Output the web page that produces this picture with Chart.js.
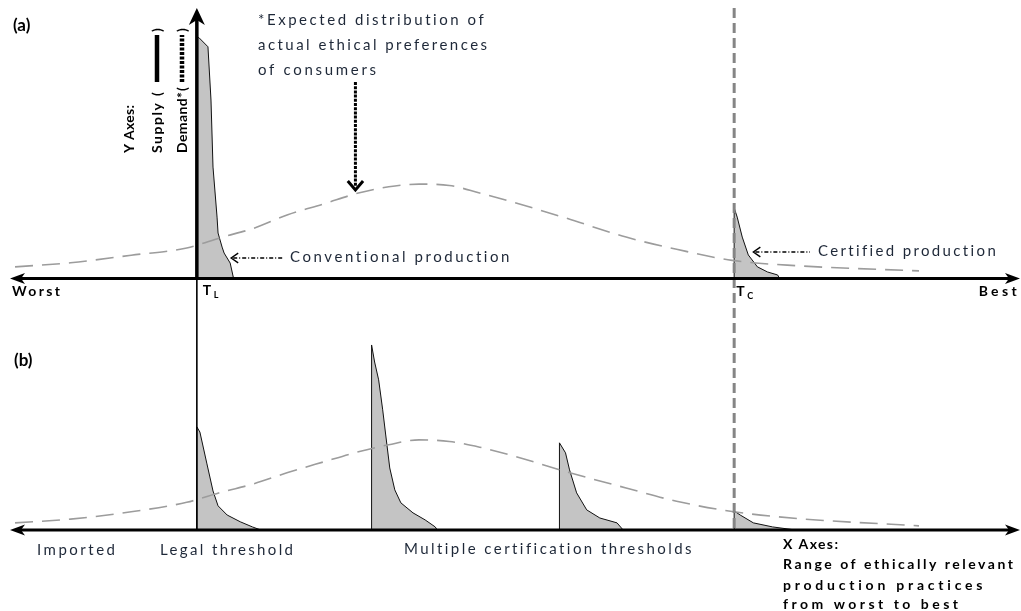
<!DOCTYPE html>
<html>
<head>
<meta charset="utf-8">
<script src="https://cdn.jsdelivr.net/npm/chart.js@4.4.1/dist/chart.umd.min.js"></script>
<style>
  html, body { margin: 0; padding: 0; background: #fff; }
  #chart { display: block; }
</style>
</head>
<body>
<canvas id="chart" width="1021" height="611"></canvas>
<script>
// x: production practices from worst (0) to best (100); y: relative quantity
const thresholdLegal = 18.5;
const thresholdCert = 71.7;

// expected consumer demand (dashed bell), panels (a) and (b)
const demandX = [0.5, 6, 12, 17.5, 21, 24, 27.5, 31, 34.5, 37.5, 40.5, 43.5, 46.5, 50, 55, 61, 66, 71.5, 78, 90];
const demandA = [4.3, 5.8, 8.6, 11.3, 15.3, 18.4, 23.6, 27.5, 31.6, 33.9, 34.9, 34.4, 31.6, 28.0, 22.4, 15.3, 10.8, 6.7, 4.7, 2.8];
const demandB = [2.6, 4.0, 6.7, 10.2, 14.0, 16.9, 21.2, 25.1, 28.9, 31.5, 33.3, 32.7, 30.6, 27.2, 21.6, 15.5, 10.6, 6.8, 4.2, 1.5];

// (a) supply: conventional + certified
const convX = [18.5, 18.5, 18.7, 19.6, 19.9, 20.1, 20.5, 20.6, 21.0, 21.2, 21.8, 22.1, 22.1];
const convY = [0, 89.1, 89.1, 85.7, 66.0, 41.2, 22.7, 16.8, 11.6, 9.4, 5.7, 0.6, 0];
const certX = [71.7, 71.7, 72.0, 72.5, 73.1, 74.0, 75.0, 76.0, 76.2];
const certY = [0, 26.1, 22.7, 15.3, 8.7, 4.3, 2.4, 1.3, 0];

// (b) supply: legal threshold + multiple certification thresholds
const legalX = [18.5, 18.5, 18.8, 19.5, 20.1, 20.6, 21.5, 22.8, 24.0, 24.8];
const legalY = [0, 38.1, 36.2, 24.4, 14.4, 8.9, 5.5, 3.0, 1.1, 0];
const multi1X = [35.8, 35.8, 36.1, 36.5, 36.9, 37.2, 37.6, 38.1, 38.7, 39.9, 41.1, 42.1, 42.3];
const multi1Y = [0, 68.4, 62.1, 55.5, 44.4, 35.1, 22.9, 14.8, 10.0, 6.3, 3.7, 1.1, 0];
const multi2X = [54.4, 54.4, 55.0, 55.4, 56.1, 57.1, 58.4, 60.1, 60.7];
const multi2Y = [0, 32.2, 28.5, 22.2, 13.7, 7.4, 4.4, 2.6, 0];
const multi3X = [71.7, 71.7, 72.3, 73.6, 75.5, 77.7];
const multi3Y = [0, 7.0, 5.5, 2.6, 1.1, 0];

const FONT = 'Lato, "Open Sans", sans-serif';
const TEXT = '#1e2838';

const pts = (xs, ys) => xs.map((x, i) => ({ x, y: ys[i] }));

const demand = (label, ys, axis) => ({
    label, data: pts(demandX, ys), yAxisID: axis,
    borderColor: '#9c9c9c', borderWidth: 1.6, borderDash: [18, 9],
    fill: false, pointRadius: 0, cubicInterpolationMode: 'monotone'
});
const supply = (label, xs, ys, axis) => ({
    label, data: pts(xs, ys), yAxisID: axis,
    borderColor: '#111', borderWidth: 1, backgroundColor: '#c4c4c4',
    fill: 'origin', pointRadius: 0, tension: 0
});

// --- helpers for the hand-drawn parts ---
function fitText(ctx, text, x, y, width, font, color, align) {
    ctx.font = font;
    ctx.letterSpacing = '0px';
    const w = ctx.measureText(text).width;
    const ls = (width - w) / Math.max(1, text.length - 1);
    ctx.letterSpacing = Math.max(-1, ls) + 'px';
    ctx.fillStyle = color;
    ctx.textAlign = align || 'left';
    ctx.textBaseline = 'middle';
    ctx.fillText(text, x, y);
    ctx.letterSpacing = '0px';
}

function line(ctx, x1, y1, x2, y2, width, color, dash) {
    ctx.save();
    ctx.beginPath();
    ctx.lineWidth = width;
    ctx.strokeStyle = color;
    ctx.setLineDash(dash || []);
    ctx.moveTo(x1, y1);
    ctx.lineTo(x2, y2);
    ctx.stroke();
    ctx.restore();
}

function headH(ctx, tipX, y, dir) {
    ctx.beginPath();
    ctx.moveTo(tipX, y);
    ctx.lineTo(tipX - dir * 15, y - 5.5);
    ctx.lineTo(tipX - dir * 11, y);
    ctx.lineTo(tipX - dir * 15, y + 5.5);
    ctx.closePath();
    ctx.fillStyle = '#000';
    ctx.fill();
}

function chevron(ctx, x, y, dx, dy, size, width, spread) {
    // open arrowhead pointing along (dx, dy)
    const nx = -dy, ny = dx, s = spread || 0.7;
    ctx.save();
    ctx.beginPath();
    ctx.lineWidth = width;
    ctx.strokeStyle = '#000';
    ctx.moveTo(x - dx * size + nx * size * s, y - dy * size + ny * size * s);
    ctx.lineTo(x, y);
    ctx.lineTo(x - dx * size - nx * size * s, y - dy * size - ny * size * s);
    ctx.stroke();
    ctx.restore();
}

const annotations = {
    id: 'annotations',
    afterDraw(chart) {
        const { ctx, scales: { x, yA, yB } } = chart;
        const px = v => x.getPixelForValue(v);
        const baseA = yA.getPixelForValue(0);
        const baseB = yB.getPixelForValue(0);
        const topA = yA.getPixelForValue(100);
        const xl = px(thresholdLegal), xc = px(thresholdCert);

        ctx.save();

        // certification threshold (dashed grey, across both panels)
        line(ctx, xc, topA, xc, baseB + 3, 3, '#858585', [10, 5]);
        // legal threshold continues into (b)
        line(ctx, xl, baseA, xl, baseB, 1.6, '#000');

        // y axis of (a)
        line(ctx, xl, baseA, xl, topA + 12, 3.5, '#000');
        ctx.beginPath();
        ctx.moveTo(xl, topA);
        ctx.lineTo(xl - 8, topA + 17);
        ctx.lineTo(xl, topA + 12);
        ctx.lineTo(xl + 8, topA + 17);
        ctx.closePath();
        ctx.fillStyle = '#000';
        ctx.fill();

        // x axes with arrowheads at both ends
        [baseA, baseB].forEach(b => {
            line(ctx, x.left + 8, b, x.right - 8, b, 3, '#000');
            headH(ctx, x.left, b, -1);
            headH(ctx, x.right, b, 1);
        });

        // panel letters
        const bold14 = 'bold 14px ' + FONT;
        const norm15 = '15px ' + FONT;
        ctx.font = 'bold 17px ' + FONT; ctx.fillStyle = '#000';
        ctx.textAlign = 'left'; ctx.textBaseline = 'middle';
        ctx.fillText('(a)', 13, 26);
        ctx.fillText('(b)', 14, 361);

        // axis end labels (a)
        fitText(ctx, 'Worst', 12, 291, 48, bold14, '#000');
        fitText(ctx, 'Best', x.right, 291, 38, bold14, '#000', 'right');
        ctx.font = bold14; ctx.textAlign = 'left'; ctx.textBaseline = 'middle'; ctx.fillStyle = '#000';
        ctx.fillText('T', xl + 6, 290);
        ctx.fillText('T', xc + 2, 291);
        ctx.font = 'bold 9px ' + FONT;
        ctx.fillText('L', xl + 17, 295);
        ctx.fillText('C', xc + 13, 296);

        // note on demand curve
        fitText(ctx, '*Expected distribution of', 258, 20, 226, norm15, TEXT);
        fitText(ctx, 'actual ethical preferences', 258, 45, 229, norm15, TEXT);
        fitText(ctx, 'of consumers', 258, 70, 118, norm15, TEXT);
        const ax = px(34.2);
        line(ctx, ax, 82, ax, 186, 3, '#000', [3, 1.2]);
        chevron(ctx, ax, 190, 0, 1, 9, 3, 0.85);

        // production labels with arrows
        fitText(ctx, 'Conventional production', 290, 257, 220, norm15, TEXT);
        line(ctx, px(21.9) + 2, 258, 284, 258, 1.3, '#000', [4, 2, 1, 2]);
        chevron(ctx, px(21.9), 258, -1, 0, 7, 1.4);
        fitText(ctx, 'Certified production', 818, 251, 178, norm15, TEXT);
        line(ctx, px(73.6) + 2, 252, 810, 252, 1.3, '#000', [4, 2, 1, 2]);
        chevron(ctx, px(73.6), 252, -1, 0, 7, 1.4);

        // rotated y axes legend
        const rot = (cx, cy, fn) => {
            ctx.save();
            ctx.translate(cx, cy);
            ctx.rotate(-Math.PI / 2);
            fn();
            ctx.restore();
        };
        const paren = (t, at) => {
            ctx.font = bold14; ctx.fillStyle = '#000';
            ctx.textAlign = 'left'; ctx.textBaseline = 'middle';
            ctx.fillText(t, at, 0);
        };
        rot(129, 153, () => fitText(ctx, 'Y Axes:', 0, 0, 48, bold14, '#000'));
        rot(157, 153, () => {
            fitText(ctx, 'Supply', 0, 0, 50, bold14, '#000');
            paren('(', 57);
            line(ctx, 71, 0, 118, 0, 4.5, '#000');
            paren(')', 121);
        });
        rot(182, 153, () => {
            fitText(ctx, 'Demand*', 0, 0, 61, bold14, '#000');
            paren('(', 62);
            line(ctx, 71, 0, 118, 0, 4.5, '#000', [3, 1.5]);
            paren(')', 121);
        });

        // x axis labels (b)
        fitText(ctx, 'Imported', 37, 550, 78, norm15, TEXT);
        fitText(ctx, 'Legal threshold', 160, 550, 133, norm15, TEXT);
        fitText(ctx, 'Multiple certification thresholds', 404, 549, 288, norm15, TEXT);
        fitText(ctx, 'X Axes:', 783, 544, 55, bold14, '#000');
        fitText(ctx, 'Range of ethically relevant', 783, 564, 230, bold14, '#000');
        fitText(ctx, 'production practices', 783, 585, 200, bold14, '#000');
        fitText(ctx, 'from worst to best', 783, 604, 175, bold14, '#000');

        ctx.restore();
    }
};

new Chart(document.getElementById('chart'), {
    type: 'line',
    data: {
        datasets: [
            demand('Demand (a)', demandA, 'yA'),
            demand('Demand (b)', demandB, 'yB'),
            supply('Conventional production', convX, convY, 'yA'),
            supply('Certified production', certX, certY, 'yA'),
            supply('Legal threshold', legalX, legalY, 'yB'),
            supply('Certification 1', multi1X, multi1Y, 'yB'),
            supply('Certification 2', multi2X, multi2Y, 'yB'),
            supply('Certification 3', multi3X, multi3Y, 'yB')
        ]
    },
    options: {
        responsive: false,
        animation: false,
        devicePixelRatio: 1,
        layout: { padding: { left: 10, right: 1, top: 0, bottom: 0 } },
        plugins: { legend: { display: false }, tooltip: { enabled: false } },
        scales: {
            x: { type: 'linear', min: 0, max: 100, display: false },
            // stacked panels: the axis listed last is placed on top
            yB: { type: 'linear', position: 'left', stack: 'panels', stackWeight: 1, min: -30, max: 83, display: false },
            yA: { type: 'linear', position: 'left', stack: 'panels', stackWeight: 1, min: -10, max: 103, display: false }
        }
    },
    plugins: [annotations]
});
</script>
</body>
</html>
